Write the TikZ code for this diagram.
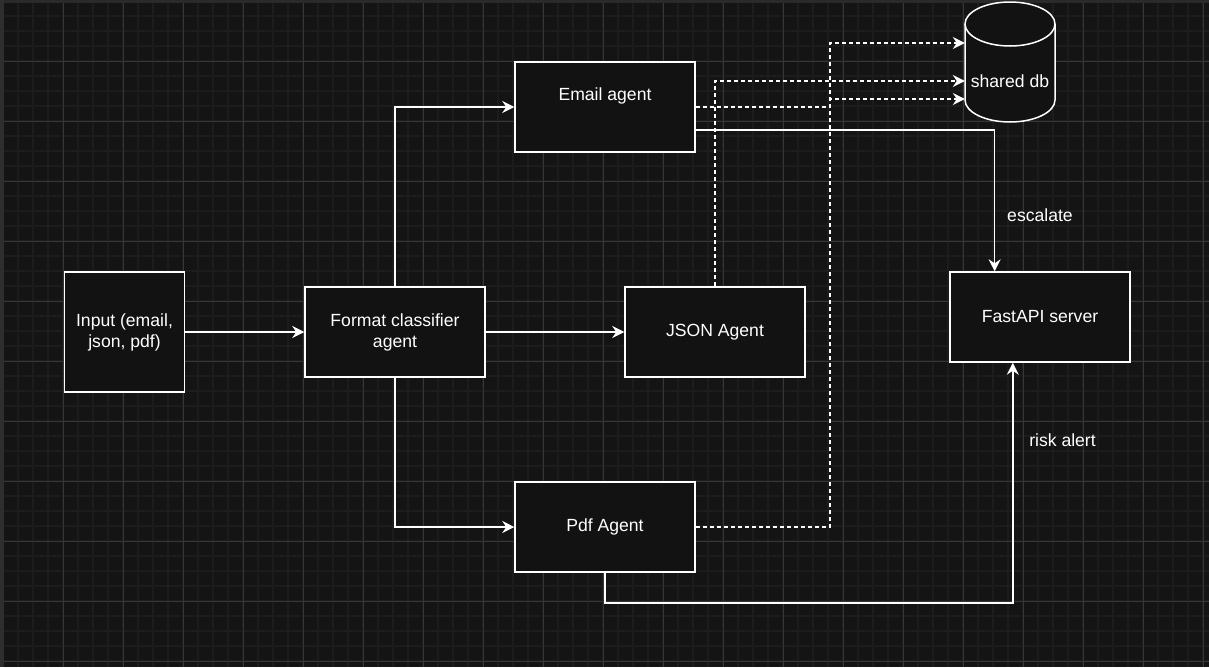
\documentclass[tikz,border=0pt]{standalone}
\usepackage{fontspec}
\setmainfont{Liberation Sans}
\usetikzlibrary{arrows.meta,calc}
\definecolor{bgcol}{HTML}{141414}
\definecolor{minorcol}{HTML}{1C1C1C}
\definecolor{majorcol}{HTML}{363636}
\definecolor{boxfill}{HTML}{121212}
\definecolor{topstrip}{HTML}{2A2A2A}
\definecolor{leftstrip}{HTML}{2C2E31}
\tikzset{
  box/.style={draw=white, line width=1.5pt, fill=boxfill, inner sep=0pt,
    minimum width=180pt, minimum height=90pt, text=white, align=center,
    font=\fontsize{17.6}{21}\selectfont},
  lbl/.style={text=white, inner sep=0pt, font=\fontsize{17.6}{21}\selectfont},
  conn/.style={draw=white, line width=1.5pt,
    -{Stealth[length=12pt, width=12pt, inset=4pt]}},
  dconn/.style={conn, dash pattern=on 4pt off 3pt},
}
\begin{document}
\begin{tikzpicture}[x=1pt, y=-1pt]
  % background and grid
  \useasboundingbox (0,0) rectangle (1209,667);
  \fill[bgcol] (0,0) rectangle (1209,667);
  \foreach \i in {0,...,80} {
    \draw[minorcol, line width=1.5pt] ({3+15*\i},0) -- ({3+15*\i},667);
  }
  \foreach \j in {0,...,44} {
    \draw[minorcol, line width=1.5pt] (0,{1+15*\j}) -- (1209,{1+15*\j});
  }
  \foreach \i in {0,...,20} {
    \draw[majorcol, line width=1pt] ({3+60*\i},0) -- ({3+60*\i},667);
  }
  \foreach \j in {0,...,11} {
    \draw[majorcol, line width=1pt] (0,{1+60*\j}) -- (1209,{1+60*\j});
  }
  \fill[topstrip] (0,0) rectangle (1209,2.5);
  \fill[leftstrip] (0,0) rectangle (4,667);

  % nodes
  \node[box, minimum width=120pt, minimum height=120pt] (inp) at (124.5,332) {Input (email,\\json, pdf)};
  \node[box] (fmt) at (395,332) {Format classifier\\agent};
  \node[box] (email) at (605,107) {};
  \node[lbl] (emaillbl) at ([yshift=11pt]email.center) {Email agent};
  \node[box] (json) at (715,332) {JSON Agent};
  \node[box] (pdf) at (605,527) {Pdf Agent};
  \node[box] (api) at (1040,317) {FastAPI server};

  % shared db cylinder
  \node[inner sep=0pt, minimum width=90pt, minimum height=120pt] (db) at (1010,62) {};
  \fill[boxfill] (965,24) -- (965,100) arc[start angle=180, delta angle=180, x radius=45pt, y radius=22pt] -- (1055,24) -- cycle;
  \fill[boxfill] (1010,24) ellipse [x radius=45pt, y radius=22pt];
  \draw[white, line width=1.5pt] (965,24) -- (965,100) arc[start angle=180, delta angle=180, x radius=45pt, y radius=22pt] -- (1055,24);
  \draw[white, line width=1.5pt] (1010,24) ellipse [x radius=45pt, y radius=22pt];
  \node[lbl] (dblbl) at (1010,81) {shared db};

  % connectors
  \draw[conn] (inp) -- (fmt);
  \draw[conn] (fmt.north) |- (email.west);
  \draw[conn] (fmt.south) |- (pdf.west);
  \draw[conn] (fmt) -- (json);
  \draw[conn] ($(email.north east)!0.75!(email.south east)$) -| ($(api.north west)!0.25!(api.north east)$);
  \draw[conn] (pdf.south) -- ++(0,30) -| ($(api.south west)!0.35!(api.south east)$);
  \node[lbl] (esc) at (1040,215) {escalate};
  \node[lbl] (risk) at (1062.5,440) {risk alert};

  % dashed connectors to db
  \draw[dconn] (email.east) -- (830,107) -- (830,99) -- (db.west |- 0,99);
  \draw[dconn] (json.north) |- (db.west |- 0,81);
  \draw[dconn] (pdf.east) -| (830,43) -- (db.west |- 0,43);
\end{tikzpicture}
\end{document}
